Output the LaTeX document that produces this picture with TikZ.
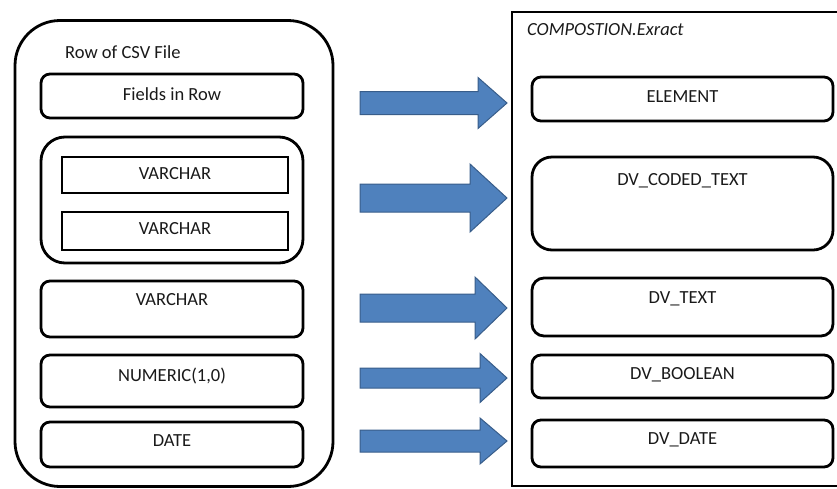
\documentclass[tikz,border=0pt]{standalone}
\usepackage{fontspec}
\setmainfont{Carlito}
\usetikzlibrary{positioning}
\definecolor{arrowfill}{HTML}{4F81BD}
\definecolor{arrowedge}{HTML}{385D8A}
\tikzset{
  box/.style={draw=black, line width=2.8pt, inner sep=0pt},
  fieldbox/.style={box, rounded corners=9pt},
  plainbox/.style={box, sharp corners},
  lbl/.style={inner sep=0pt, font=\fontsize{18.5}{22}\selectfont, text=black!90},
  blockarrow/.style={fill=arrowfill, draw=arrowedge, line width=1pt, line join=miter},
}
% block arrow: tail x, head base x, tip x, centre y, shaft half width, head half width
\newcommand{\bigarrow}[6]{%
  \draw[blockarrow] (#1,#4-#5) -- (#2,#4-#5) -- (#2,#4-#6) -- (#3,#4)
    -- (#2,#4+#6) -- (#2,#4+#5) -- (#1,#4+#5) -- cycle;}
\begin{document}
\begin{tikzpicture}[x=1pt, y=-1pt]
\useasboundingbox (0,0) rectangle (837,488);
\clip (0,0) rectangle (837,488);

% ---- source: one row of the CSV file ----
\node[box, rounded corners=45pt, minimum width=318pt, minimum height=466pt] (row) at (174,253.5) {};
\node[lbl, anchor=west] (rowtitle) at (65,52) {Row of CSV File};

\node[fieldbox, minimum width=262pt, minimum height=44pt] (fields) at (172,96) {};
\node[lbl] (fieldstxt) at (172,94) {Fields in Row};

\node[fieldbox, rounded corners=24pt, minimum width=262pt, minimum height=126pt] (group) at (172,200) {};
\node[plainbox, minimum width=226pt, minimum height=36pt] (vc1) at (175,175) {};
\node[lbl] (vc1txt) at (175,174) {VARCHAR};
\node[plainbox, minimum width=226pt, minimum height=38pt] (vc2) at (175,231) {};
\node[lbl] (vc2txt) at (175,229) {VARCHAR};

\node[fieldbox, minimum width=262pt, minimum height=56pt] (vc3) at (172,309) {};
\node[lbl] (vc3txt) at (172,300) {VARCHAR};

\node[fieldbox, minimum width=262pt, minimum height=52pt] (num) at (172,381) {};
\node[lbl] (numtxt) at (172,376) {NUMERIC(1,0)};

\node[fieldbox, minimum width=262pt, minimum height=45pt] (date) at (172,444.5) {};
\node[lbl] (datetxt) at (172,441) {DATE};

% ---- target: COMPOSTION.Exract ----
\node[plainbox, minimum width=340pt, minimum height=474pt] (comp) at (682,249) {};
\node[lbl, anchor=west, font=\fontsize{18.5}{22}\selectfont\itshape] (comptitle) at (527,30) {COMPOSTION.Exract};

\node[fieldbox, minimum width=301pt, minimum height=44pt] (element) at (682.5,99) {};
\node[lbl] (elementtxt) at (682.5,97) {ELEMENT};

\node[fieldbox, rounded corners=20pt, minimum width=301pt, minimum height=93pt] (coded) at (682.5,203.5) {};
\node[lbl] (codedtxt) at (682.5,181) {DV\_CODED\_TEXT};

\node[fieldbox, rounded corners=12pt, minimum width=301pt, minimum height=58pt] (dvtext) at (682.5,307) {};
\node[lbl] (dvtexttxt) at (682.5,299) {DV\_TEXT};

\node[fieldbox, minimum width=301pt, minimum height=43pt] (bool) at (682.5,376.5) {};
\node[lbl] (booltxt) at (682.5,375) {DV\_BOOLEAN};

\node[fieldbox, minimum width=301pt, minimum height=47pt] (dvdate) at (682.5,443.5) {};
\node[lbl] (dvdatetxt) at (682.5,440) {DV\_DATE};

% ---- mapping arrows ----
\bigarrow{360}{478}{507}{103}{11.5}{25.5}
\bigarrow{360}{470}{507}{198}{14}{34}
\bigarrow{360}{475}{507}{308}{14}{31}
\bigarrow{360}{480}{507}{378}{10}{24.5}
\bigarrow{360}{480}{507}{441}{11}{23}
\end{tikzpicture}
\end{document}
